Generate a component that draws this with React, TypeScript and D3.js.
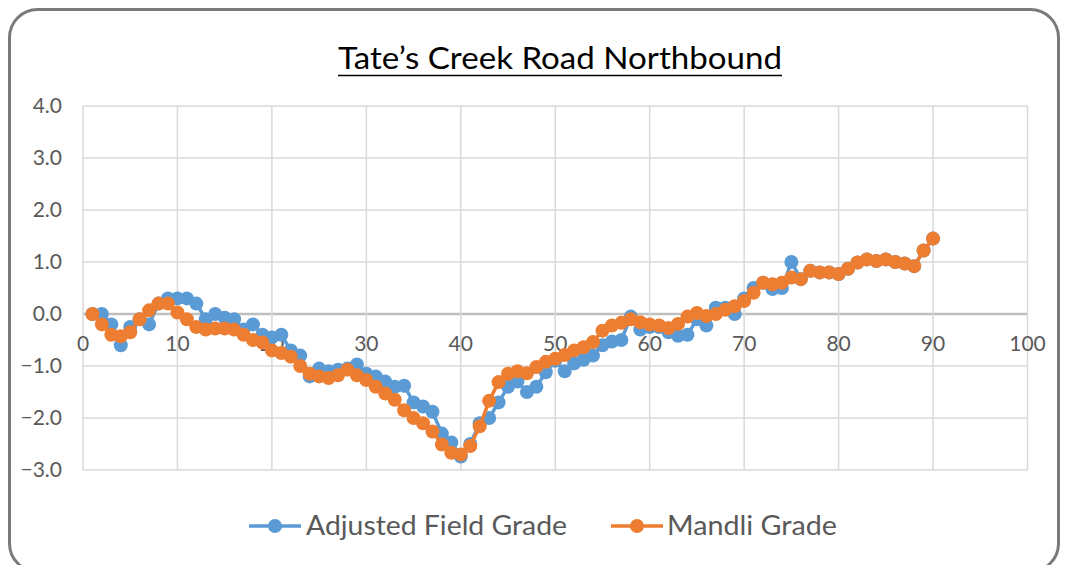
import React from "react";
import * as d3 from "d3";

const stations: number[] = Array.from({ length: 90 }, (_, i) => i + 1);

const adjustedFieldGrade: number[] = [
  0.0, 0.0, -0.2, -0.6, -0.25, -0.1, -0.2, 0.2, 0.3, 0.3,
  0.3, 0.2, -0.1, 0.0, -0.07, -0.1, -0.3, -0.2, -0.4, -0.45,
  -0.4, -0.7, -0.8, -1.2, -1.05, -1.1, -1.07, -1.05, -0.97, -1.15,
  -1.2, -1.3, -1.4, -1.38, -1.7, -1.78, -1.88, -2.3, -2.47, -2.74,
  -2.5, -2.1, -2.0, -1.7, -1.4, -1.3, -1.5, -1.4, -1.12, -0.9,
  -1.1, -0.95, -0.88, -0.8, -0.6, -0.53, -0.5, -0.05, -0.3, -0.25,
  -0.25, -0.35, -0.42, -0.4, -0.1, -0.22, 0.12, 0.12, 0.0, 0.3,
  0.5, 0.6, 0.48, 0.5, 1.0, 0.67, 0.83, 0.8, 0.8, 0.77,
  0.87, 0.99, 1.05, 1.02, 1.05, 1.0, 0.97, 0.92, 1.22, 1.45,
];

const mandliGrade: number[] = [
  0.0, -0.2, -0.4, -0.43, -0.35, -0.1, 0.07, 0.2, 0.2, 0.03,
  -0.1, -0.25, -0.3, -0.28, -0.28, -0.3, -0.4, -0.5, -0.55, -0.7,
  -0.75, -0.82, -1.0, -1.15, -1.2, -1.23, -1.18, -1.07, -1.18, -1.27,
  -1.4, -1.53, -1.65, -1.85, -2.0, -2.1, -2.26, -2.51, -2.67, -2.7,
  -2.54, -2.16, -1.67, -1.31, -1.15, -1.1, -1.14, -1.02, -0.92, -0.86,
  -0.79, -0.7, -0.64, -0.54, -0.32, -0.22, -0.17, -0.1, -0.16, -0.2,
  -0.22, -0.27, -0.19, -0.05, 0.02, -0.04, 0.0, 0.08, 0.15, 0.25,
  0.41, 0.6, 0.57, 0.6, 0.7, 0.67, 0.83, 0.8, 0.8, 0.77,
  0.87, 0.99, 1.05, 1.02, 1.05, 1.0, 0.97, 0.92, 1.22, 1.45,
];

const xTicks: number[] = [0, 10, 20, 30, 40, 50, 60, 70, 80, 90, 100];
const yTicks: number[] = [-3, -2, -1, 0, 1, 2, 3, 4];

const titleText = "Tate’s Creek Road Northbound";
const seriesNames: string[] = ["Adjusted Field Grade", "Mandli Grade"];
const seriesColors: string[] = ["#5B9BD5", "#ED7D31"];

const W = 1065;
const H = 565;
const plot = { left: 83, right: 1027.5, top: 106, bottom: 470 };
const FONT = "Lato, 'Open Sans', sans-serif";
const R = 7;

export default function App() {
  const x = d3.scaleLinear().domain([0, 100]).range([plot.left, plot.right]);
  const y = d3.scaleLinear().domain([-3, 4]).range([plot.bottom, plot.top]);
  const line = d3
    .line<number>()
    .x((_, i) => x(stations[i]))
    .y((d) => y(d));

  const series = [adjustedFieldGrade, mandliGrade];

  return (
    <svg
      width={W}
      height={H}
      style={{ position: "absolute", left: 0, top: 0, background: "#fff" }}
      fontFamily={FONT}
    >
      <rect x={0} y={0} width={W} height={H} fill="#fff" />
      <rect
        x={9.5}
        y={9.5}
        width={1049}
        height={562}
        rx={28}
        ry={28}
        fill="#fff"
        stroke="#7a7a7a"
        strokeWidth={3}
      />
      {/* title */}
      <text
        x={560}
        y={69}
        textAnchor="middle"
        fontSize={31}
        fill="#000"
        textLength={444}
        lengthAdjust="spacingAndGlyphs"
      >
        {titleText}
      </text>
      <line x1={338} x2={782} y1={75.5} y2={75.5} stroke="#000" strokeWidth={1.6} />

      {/* gridlines */}
      {yTicks.map((t) => (
        <line
          key={"gy" + t}
          x1={plot.left}
          x2={plot.right}
          y1={y(t)}
          y2={y(t)}
          stroke={t === 0 ? "#bfbfbf" : "#d9d9d9"}
          strokeWidth={t === 0 ? 2.5 : 1.5}
        />
      ))}
      {xTicks.map((t) => (
        <line
          key={"gx" + t}
          x1={x(t)}
          x2={x(t)}
          y1={plot.top}
          y2={plot.bottom}
          stroke="#d9d9d9"
          strokeWidth={1.5}
        />
      ))}

      {/* y labels */}
      {yTicks.map((t) => (
        <text
          key={"ly" + t}
          x={62}
          y={y(t) + 7}
          textAnchor="end"
          fontSize={21}
          fill="#595959"
        >
          {d3.format(".1f")(t)}
        </text>
      ))}
      {/* x labels */}
      {xTicks.map((t) => (
        <text
          key={"lx" + t}
          x={x(t)}
          y={y(0) + 37}
          textAnchor="middle"
          fontSize={21}
          fill="#595959"
        >
          {t}
        </text>
      ))}

      {/* series */}
      {series.map((s, si) => (
        <g key={"s" + si}>
          <path d={line(s) || ""} fill="none" stroke={seriesColors[si]} strokeWidth={3.5} strokeLinejoin="round" />
          {s.map((v, i) => (
            <circle key={i} cx={x(stations[i])} cy={y(v)} r={R} fill={seriesColors[si]} />
          ))}
        </g>
      ))}

      {/* legend */}
      <g>
        <line x1={249} x2={301} y1={526} y2={526} stroke={seriesColors[0]} strokeWidth={3.5} />
        <circle cx={275} cy={526} r={R} fill={seriesColors[0]} />
        <text x={306} y={535} fontSize={27} fill="#595959" textLength={261} lengthAdjust="spacingAndGlyphs">
          {seriesNames[0]}
        </text>
        <line x1={611} x2={663} y1={526} y2={526} stroke={seriesColors[1]} strokeWidth={3.5} />
        <circle cx={637} cy={526} r={R} fill={seriesColors[1]} />
        <text x={667} y={535} fontSize={27} fill="#595959" textLength={170} lengthAdjust="spacingAndGlyphs">
          {seriesNames[1]}
        </text>
      </g>
    </svg>
  );
}
